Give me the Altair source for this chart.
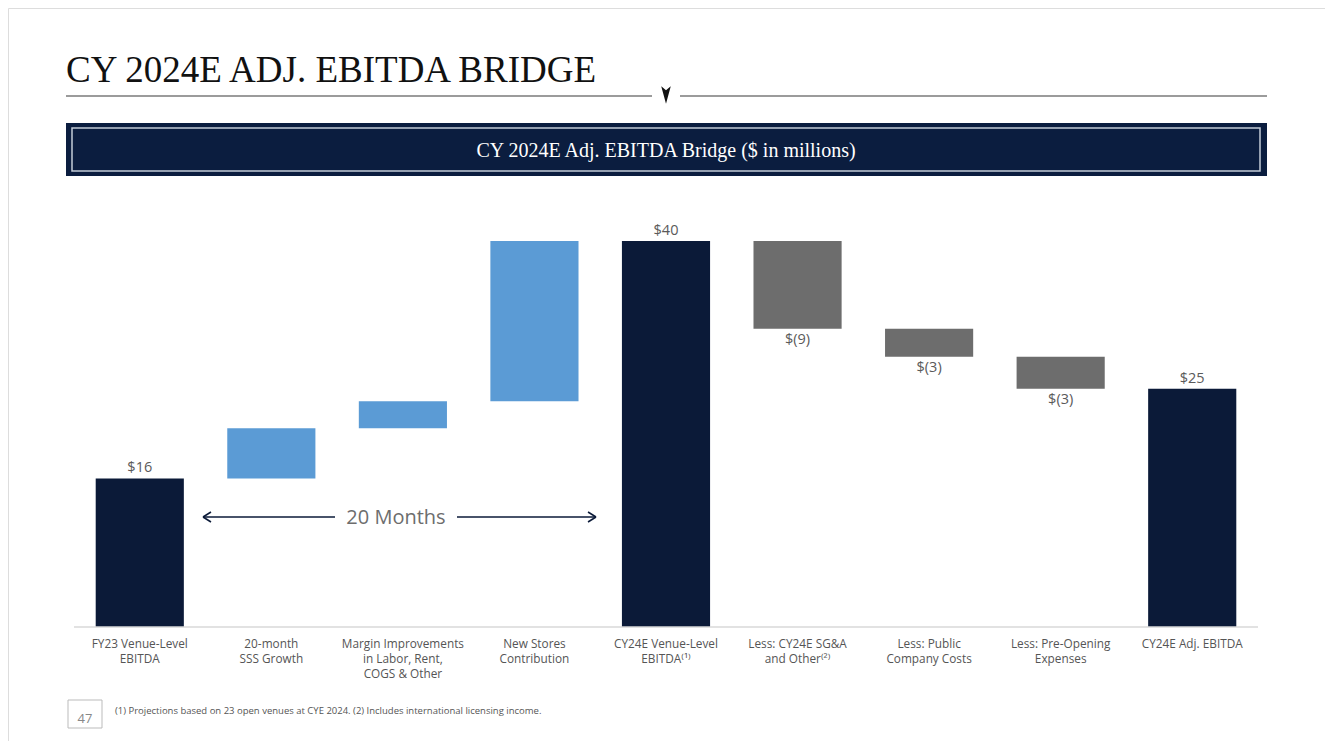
import altair as alt
import pandas as pd

# ---- data ----
categories = [
    "FY23 Venue-Level\nEBITDA",
    "20-month\nSSS Growth",
    "Margin Improvements\nin Labor, Rent,\nCOGS & Other",
    "New Stores\nContribution",
    "CY24E Venue-Level\nEBITDA\u207d\u00b9\u207e",
    "Less: CY24E SG&A\nand Other\u207d\u00b2\u207e",
    "Less: Public\nCompany Costs",
    "Less: Pre-Opening\nExpenses",
    "CY24E Adj. EBITDA",
]
amounts = [15.4, 5.2, 2.8, 16.6, 40.0, -9.1, -2.9, -3.3, 24.7]
kinds = ["total", "up", "up", "up", "total", "down", "down", "down", "total"]
value_labels = ["$16", "", "", "", "$40", "$(9)", "$(3)", "$(3)", "$25"]

rows = []
running = 0.0
for i, (c, a, k, lab) in enumerate(zip(categories, amounts, kinds, value_labels)):
    if k == "total":
        start, end = 0.0, a
        running = a
    else:
        start = running
        end = running + a
        running = end
    rows.append({"order": i, "cat": c, "start": start, "end": end, "kind": k,
                 "label": lab, "top": max(start, end), "bottom": min(start, end)})
df = pd.DataFrame(rows)

NAVY = "#0b1a38"
BLUE = "#5b9bd5"
GRAY = "#6d6d6d"
SANS = "Open Sans"
SERIF = "Liberation Serif"

xscale = alt.Scale(domain=categories, range=[66, 1250], paddingInner=0.33, paddingOuter=0.165)
yscale = alt.Scale(domain=[0, 40], range=[619, 233])

X = alt.X("cat:N", scale=xscale, axis=None, sort=categories)

bars = alt.Chart(df).mark_bar(cornerRadius=0).encode(
    x=X,
    y=alt.Y("start:Q", scale=yscale, axis=None),
    y2="end:Q",
    color=alt.Color("kind:N", scale=alt.Scale(domain=["total", "up", "down"],
                                               range=[NAVY, BLUE, GRAY]), legend=None),
)

above = alt.Chart(df).transform_filter("datum.kind != 'down'").mark_text(
    baseline="bottom", dy=-3, font=SANS, fontSize=14.5, color="#5a5a5a"
).encode(x=X, y=alt.Y("top:Q", scale=yscale), text="label:N")

below = alt.Chart(df).transform_filter("datum.kind == 'down'").mark_text(
    baseline="top", dy=4, font=SANS, fontSize=14.5, color="#5a5a5a"
).encode(x=X, y=alt.Y("bottom:Q", scale=yscale), text="label:N")

xlabels = alt.Chart(df).mark_text(
    baseline="top", lineBreak="\n", lineHeight=15, font=SANS, fontSize=11.8, color="#555555"
).encode(x=X, y=alt.value(631), text="cat:N")

one = pd.DataFrame({"a": [0]})

baseline = alt.Chart(one).mark_rule(color="#d9d9d9", strokeWidth=1.5).encode(
    x=alt.value(66), x2=alt.value(1250), y=alt.value(619))

# header
title = alt.Chart(one).mark_text(
    text="CY 2024E ADJ. EBITDA BRIDGE", align="left", baseline="alphabetic",
    font=SERIF, fontSize=37, color="#111111"
).encode(x=alt.value(58), y=alt.value(74))

hline1 = alt.Chart(one).mark_rule(color="#7a7a7a", strokeWidth=1.5).encode(
    x=alt.value(58), x2=alt.value(644), y=alt.value(88))
hline2 = alt.Chart(one).mark_rule(color="#7a7a7a", strokeWidth=1.5).encode(
    x=alt.value(672), x2=alt.value(1259), y=alt.value(88))
tri = alt.Chart(one).mark_point(shape="M-0.55,-1L0,-0.55L0.55,-1L0,1Z", filled=True, size=300,
                                color="#111111", opacity=1).encode(
    x=alt.value(658), y=alt.value(87))

band = alt.Chart(one).mark_rect(color="#0b1d3f").encode(
    x=alt.value(58), x2=alt.value(1259), y=alt.value(115), y2=alt.value(168))
band_border = alt.Chart(one).mark_rect(fill="transparent", stroke="#c4ccd8", strokeWidth=1.5).encode(
    x=alt.value(64), x2=alt.value(1252), y=alt.value(120), y2=alt.value(163))
band_text = alt.Chart(one).mark_text(
    text="CY 2024E Adj. EBITDA Bridge ($ in millions)", align="center", baseline="middle",
    font=SERIF, fontSize=20, color="#ffffff"
).encode(x=alt.value(658), y=alt.value(143))

# 20 months arrow
arrow_parts = []
for x1, x2, y1, y2 in [(195, 327, 509, 509), (449, 588, 509, 509),
                       (195, 203, 509, 504), (195, 203, 509, 514),
                       (588, 580, 509, 504), (588, 580, 509, 514)]:
    arrow_parts.append(alt.Chart(one).mark_rule(color=NAVY, strokeWidth=1.5).encode(
        x=alt.value(x1), x2=alt.value(x2), y=alt.value(y1), y2=alt.value(y2)))
months = alt.Chart(one).mark_text(
    text="20 Months", align="center", baseline="middle", font=SANS, fontSize=20, color="#6d6d6d"
).encode(x=alt.value(388), y=alt.value(510))

# footer
pagebox = alt.Chart(one).mark_rect(fill="transparent", stroke="#bbbbbb", strokeWidth=1).encode(
    x=alt.value(60), x2=alt.value(94), y=alt.value(692), y2=alt.value(720))
pagenum = alt.Chart(one).mark_text(
    text="47", align="center", baseline="middle", font=SANS, fontSize=13, color="#888888"
).encode(x=alt.value(77), y=alt.value(711))
footnote = alt.Chart(one).mark_text(
    text="(1) Projections based on 23 open venues at CYE 2024. (2) Includes international licensing income.",
    align="left", baseline="middle", font=SANS, fontSize=9.5, color="#555555"
).encode(x=alt.value(107), y=alt.value(703))

chart = alt.layer(
    band, band_border, band_text, title, hline1, hline2, tri,
    bars, above, below, xlabels, baseline, *arrow_parts, months,
    pagebox, pagenum, footnote,
).properties(
    width=1317, height=733, padding=0, autosize="none"
).configure_view(stroke="transparent", strokeWidth=0).configure(background="#ffffff")

chart.save("out.html", embed_options={"renderer": "svg", "actions": False})
